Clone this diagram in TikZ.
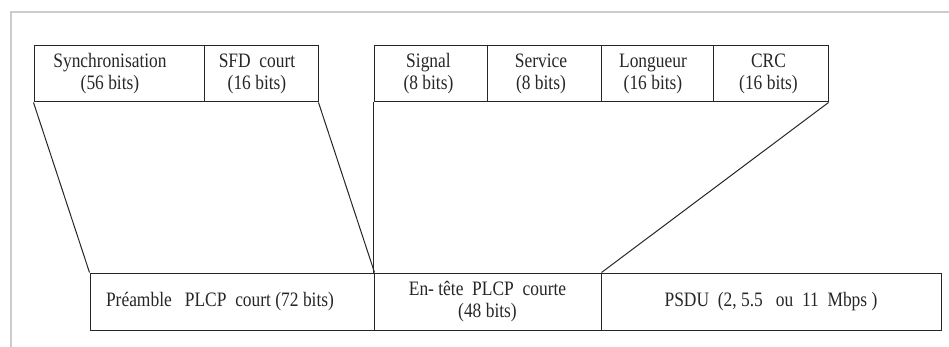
\documentclass[tikz,border=0pt]{standalone}
\usepackage{fontspec}
\setmainfont{Liberation Serif}[FakeStretch=0.85]
\newcommand{\lsh}[1]{\hspace*{-#1pt}}
\begin{document}
\begin{tikzpicture}[x=1pt,y=-1pt,
  field/.style={draw=black!85, line width=1pt, rectangle, inner sep=0pt, align=center,
    font=\fontsize{20.5}{22}\selectfont, text=black!85},
  link/.style={draw=black!85, line width=1pt},
  frame/.style={draw={rgb,255:red,208;green,202;blue,204}, line width=1.6pt}]
\useasboundingbox (0,0) rectangle (949,347);
\draw[frame] (11,347) -- (11,12) -- (949,12);
% top left group
\node[field, minimum width=170pt, minimum height=56pt] (sync) at (119,74) {\lsh{18}Synchronisation\\\lsh{18}(56 bits)};
\node[field, minimum width=114pt, minimum height=56pt] (sfd) at (261,74) {\lsh{8}SFD\ \ court\\\lsh{8}(16 bits)};
% top right group
\node[field, minimum width=113pt, minimum height=56pt] (sig) at (430.5,74) {\lsh{4}Signal\\\lsh{4}(8 bits)};
\node[field, minimum width=114pt, minimum height=56pt] (serv) at (544,74) {\lsh{6}Service\\\lsh{6}(8 bits)};
\node[field, minimum width=112pt, minimum height=56pt] (long) at (657,74) {\lsh{8}Longueur\\\lsh{8}(16 bits)};
\node[field, minimum width=115pt, minimum height=56pt] (crc) at (770.5,74) {\lsh{4}CRC\\\lsh{4}(16 bits)};
% bottom row
\node[field, minimum width=284pt, minimum height=57pt] (pre) at (232,301.5) {\lsh{24}Préamble\ \ \ PLCP\ \ court (72 bits)};
\node[field, minimum width=227pt, minimum height=57pt] (ent) at (487.5,301.5) {En- tête\ \ PLCP\ \ courte\\(48 bits)};
\node[field, minimum width=340pt, minimum height=57pt] (psdu) at (771,301.5) {PSDU\ \ (2, 5.5\ \ \ ou\ \ 11\ \ Mbps\ )};
% expansion lines
\draw[link] (sync.south west) -- (pre.north west);
\draw[link] (sfd.south east) -- (pre.north east);
\draw[link] (sig.south west) -- (ent.north west);
\draw[link] (crc.south east) -- (ent.north east);
\end{tikzpicture}
\end{document}
